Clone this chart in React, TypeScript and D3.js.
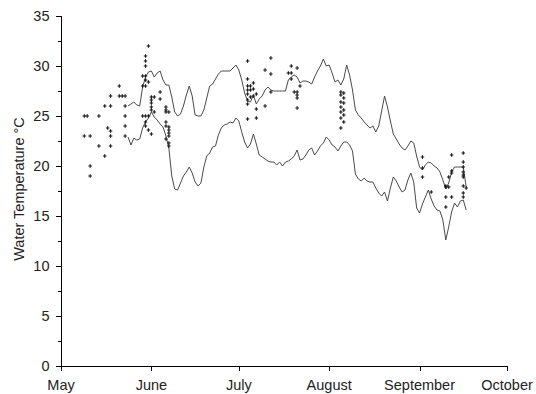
import React from "react";
import * as d3 from "d3";

// Season axis: month starts and their labels
const monthLabels = ["May", "June", "July", "August", "September", "October"];
const yTickValues = [0, 5, 10, 15, 20, 25, 30, 35];

// Daily logger record, first day of the record
const recordStart = "2000-05-24";
// Daily maximum water temperature (°C), one value per day from recordStart
const dailyMax = [
  26.0, 26.2, 26.4, 26.1, 26.0, 27.9, 28.9, 29.4, 29.5, 28.9,
  29.3, 29.5, 28.6, 28.1, 28.1, 26.9, 25.4, 25.0, 25.2, 26.0,
  27.1, 28.0, 27.0, 25.1, 25.0, 25.0, 25.6, 26.8, 28.0, 28.2,
  28.7, 29.2, 29.5, 29.5, 29.5, 29.5, 29.8, 30.1, 29.6, 28.6,
  27.3, 26.5, 26.4, 27.1, 26.2, 26.7, 27.0, 27.6, 27.9, 27.6,
  27.5, 27.5, 27.5, 27.5, 27.5, 28.6, 28.9, 29.1, 28.9, 28.3,
  28.5, 28.5, 28.4, 28.2, 28.9, 29.5, 30.0, 30.7, 30.0, 30.1,
  29.3, 28.4, 28.6, 28.1, 28.7, 30.1, 29.1, 27.6, 25.6, 25.1,
  24.8, 24.4, 24.1, 23.8, 24.0, 23.4, 24.0, 25.5, 27.0, 25.9,
  24.5, 23.2, 22.7, 22.2, 21.8, 21.6, 22.0, 22.5, 22.3, 21.0,
  19.9, 19.6, 20.1, 20.4, 20.3, 20.0, 19.8, 19.4, 18.6, 17.7,
  18.3, 19.4, 19.9, 19.9, 19.9, 19.9, 17.9,
];
// Daily minimum water temperature (°C), one value per day from recordStart
const dailyMin = [
  22.9, 22.1, 22.8, 22.6, 22.7, 23.8, 24.4, 24.8, 25.4, 24.9,
  24.6, 24.2, 23.9, 23.0, 21.8, 19.0, 17.7, 17.6, 18.3, 19.0,
  19.4, 19.9, 19.3, 18.4, 18.0, 18.3, 19.9, 21.0, 21.3, 21.9,
  22.0, 23.1, 23.8, 24.1, 24.2, 24.4, 24.3, 24.8, 24.5, 23.4,
  22.4, 21.8, 22.2, 23.2, 22.2, 21.1, 20.9, 20.7, 20.5, 20.4,
  20.4, 20.1, 20.4, 20.0, 20.4, 20.5, 20.7, 21.0, 21.6, 20.6,
  20.7, 21.1, 21.6, 21.8, 21.1, 21.5, 22.0, 22.3, 22.9, 22.6,
  22.1, 21.9, 21.5, 22.0, 22.4, 22.4, 22.1, 21.5, 19.2, 18.7,
  18.5, 18.8, 18.5, 18.4, 18.4, 17.8, 17.3, 17.0, 17.4, 16.5,
  17.8, 18.9, 18.5, 17.9, 17.4, 17.6, 18.6, 19.3, 18.4, 15.8,
  15.3, 16.2, 16.9, 17.6, 16.7, 16.0, 15.6, 15.5, 14.6, 12.6,
  13.9, 15.4, 16.3, 15.9, 16.5, 16.6, 15.6,
];

// Spot measurements: sampling date and water temperature (°C)
const spotDates = [
  "05-09", "05-10", "05-09", "05-11", "05-11", "05-11", "05-14", "05-14",
  "05-16", "05-16", "05-17", "05-18", "05-18", "05-18", "05-18", "05-18",
  "05-21", "05-21", "05-22", "05-23", "05-23", "05-23", "05-23", "05-23",
  "05-29", "05-29", "05-29", "05-30", "05-30", "05-30", "05-30", "05-30",
  "05-30", "05-30", "05-31", "05-31", "05-31", "05-30", "05-30", "05-31",
  "06-01", "06-01", "06-01", "06-01", "06-01", "06-01", "06-02", "06-02",
  "06-04", "06-04", "06-06", "06-06", "06-06", "06-07", "06-06", "06-06",
  "06-07", "06-07", "06-07", "06-07", "06-06", "06-07", "06-07",
  "07-04", "07-04", "07-04", "07-05", "07-06", "07-06", "07-05", "07-04",
  "07-04", "07-05", "07-04", "07-04", "07-06", "07-04", "07-07", "07-07",
  "07-07", "07-10", "07-10", "07-12", "07-12", "07-12", "07-18", "07-19",
  "07-19", "07-19", "07-20", "07-21", "07-21", "07-21", "07-21", "07-21",
  "07-22",
  "08-05", "08-06", "08-05", "08-06", "08-05", "08-06", "08-05", "08-06",
  "08-05", "08-06", "08-05", "08-06", "08-05",
  "09-02", "09-02", "09-02", "09-05", "09-12", "09-16", "09-16", "09-16",
  "09-16", "09-16", "09-16", "09-12", "09-12", "09-11", "09-10", "09-10",
  "09-11", "09-10", "09-12", "09-10", "09-16", "09-17", "09-16", "09-16",
];
const spotTemps = [
  25, 25, 23, 23, 20, 19, 25, 22,
  26, 21, 23.8, 23.5, 27, 26, 23, 22,
  28, 27, 27, 27, 26, 25, 24, 23,
  29.0, 28.0, 25, 31.0, 29.0, 30.5, 30.0, 28.6,
  28.0, 25, 32.0, 28.4, 25, 24.4, 24.0, 23.6,
  23.2, 26.9, 26.6, 26.3, 25.9, 25.6, 25.4, 26.9,
  27.4, 26.7, 25.9, 25.6, 25.4, 25.4, 24.4, 24.0,
  23.9, 23.6, 23.3, 23.0, 22.7, 22.3, 22.0,
  30.5, 28.7, 28.0, 28.0, 28.3, 27.7, 27.6, 27.6,
  27.2, 26.9, 26.6, 26.2, 27.0, 24.7, 27.2, 25.7,
  24.8, 29.6, 26.0, 30.8, 29.2, 27.4, 29.3, 29.3,
  30.0, 28.7, 27.4, 27.4, 29.8, 27.1, 26.8, 25.8,
  28.0,
  27.4, 27.3, 27.1, 26.8, 26.4, 26.3, 25.9, 25.6,
  25.4, 25.1, 24.8, 24.4, 23.8,
  20.9, 19.8, 18.9, 17.4, 21.1, 21.3, 20.4, 19.9,
  19.4, 19.1, 18.9, 19.5, 19.3, 18.9, 18.0, 17.9,
  17.9, 16.9, 16.9, 15.9, 18.0, 17.8, 17.3, 16.9,
];

const W = 536;
const H = 394;
const YEAR = 2000;
const FONT = "'Liberation Sans', Arial, sans-serif";
const FS = 14.5;

export default function App() {
  const start = new Date(YEAR, 4, 1);
  const end = new Date(YEAR, 9, 1);
  const x = d3.scaleTime().domain([start, end]).range([61, 507]);
  const y = d3.scaleLinear().domain([0, 35]).range([366, 16]);

  const monthTicks = d3.timeMonth.range(start, d3.timeDay.offset(end, 1));
  const minorTicks = d3.range(0, 35.01, 2.5);

  const first = d3.timeParse("%Y-%m-%d")(recordStart) as Date;
  const maxSeries = dailyMax.map((v, i) => ({ date: d3.timeDay.offset(first, i), v }));
  const minSeries = dailyMin.map((v, i) => ({ date: d3.timeDay.offset(first, i), v }));

  const line = d3
    .line<{ date: Date; v: number }>()
    .x((d) => x(d.date))
    .y((d) => y(d.v));

  const parseMD = d3.timeParse("%Y-%m-%d");
  const spots = spotDates.map((s, i) => ({
    date: parseMD(`${YEAR}-${s}`) as Date,
    v: spotTemps[i],
  }));
  const cross = d3.symbol().type(d3.symbolCross).size(7)() as string;

  return (
    <svg
      width={W}
      height={H}
      style={{ position: "absolute", left: 0, top: 0, background: "#fff" }}
      fontFamily={FONT}
    >
      <rect width={W} height={H} fill="#fff" />

      {/* daily max / min lines */}
      <path d={line(maxSeries) as string} fill="none" stroke="#4a4a4a" strokeWidth={1} />
      <path d={line(minSeries) as string} fill="none" stroke="#4a4a4a" strokeWidth={1} />

      {/* spot measurements */}
      {spots.map((p, i) => (
        <path
          key={i}
          d={cross}
          transform={`translate(${x(p.date)},${y(p.v)})`}
          fill="#1a1a1a"
        />
      ))}

      {/* y axis */}
      <line x1={61.5} x2={61.5} y1={y(35)} y2={y(0)} stroke="#000" strokeWidth={1} />
      {minorTicks.map((t) => (
        <line
          key={t}
          x1={t % 5 === 0 ? 56 : 58}
          x2={61.5}
          y1={Math.round(y(t)) + 0.5}
          y2={Math.round(y(t)) + 0.5}
          stroke="#000"
        />
      ))}
      {yTickValues.map((t) => (
        <text
          key={t}
          x={49.5}
          y={y(t)}
          dy="0.36em"
          textAnchor="end"
          fontSize={FS}
          fill="#222"
        >
          {t}
        </text>
      ))}

      {/* x axis */}
      <line x1={61} x2={507} y1={366.5} y2={366.5} stroke="#000" strokeWidth={1} />
      {monthTicks.map((m, i) => (
        <g key={i}>
          <line x1={Math.round(x(m)) + 0.5} x2={Math.round(x(m)) + 0.5} y1={366} y2={371} stroke="#000" />
          <text x={x(m)} y={390} textAnchor="middle" fontSize={FS} fill="#222">
            {monthLabels[i]}
          </text>
        </g>
      ))}

      <text
        transform={`translate(24,${(y(0) + y(35)) / 2 - 2}) rotate(-90)`}
        textAnchor="middle"
        fontSize={FS}
        fill="#222"
      >
        Water Temperature °C
      </text>
    </svg>
  );
}
